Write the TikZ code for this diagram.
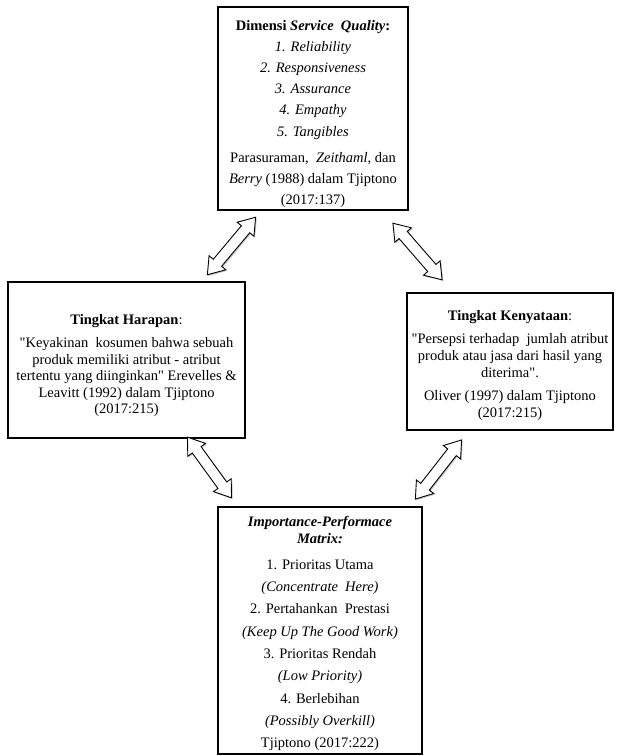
\documentclass[tikz,border=0pt]{standalone}
\usepackage{fontspec}
\setmainfont{Liberation Serif}
\usetikzlibrary{calc}
\usetikzlibrary{shapes.arrows}
\usetikzlibrary{shadows}

\tikzset{
  box/.style={draw, line width=2.4pt, align=center, inner sep=0pt},
  bolak/.style={double arrow, draw, fill=white, line width=0.9pt,
    minimum height=75pt, inner xsep=0pt, inner ysep=5pt,
    double arrow head extend=5.5pt, double arrow tip angle=70,
    drop shadow={shadow xshift=1.2pt, shadow yshift=-1.2pt, opacity=0.45}}
}

\begin{document}
\begin{tikzpicture}[x=1pt,y=-1pt]

\useasboundingbox (0,0) rectangle (621,756);

\node[box, minimum width=190pt, minimum height=203pt, font=\fontsize{14.5}{21.2}\selectfont] (dimensi) at (313,108.5)
{\rule{0pt}{21pt}\textbf{Dimensi \textit{Service\ \ Quality}:}\\
\textit{1. Reliability}\\
\textit{2. Responsiveness}\\
\textit{3. Assurance}\\
\textit{4. Empathy}\\
\textit{5. Tangibles}\\[5pt]
Parasuraman, \ \textit{Zeithaml}, dan\\
\textit{Berry} (1988) dalam Tjiptono\\
(2017:137)};

\node[box, minimum width=237pt, minimum height=156pt, font=\fontsize{14.5}{16.5}\selectfont] (harapan) at (126.5,360)
{\rule{0pt}{21pt}\textbf{Tingkat Harapan}:\\[7pt]
\textquotedbl Keyakinan \ kosumen bahwa sebuah\\
produk memiliki atribut - atribut\\
tertentu yang diinginkan\textquotedbl\ Erevelles \&\\
Leavitt (1992) dalam Tjiptono\\
(2017:215)};

\node[box, minimum width=206pt, minimum height=137pt, font=\fontsize{14.5}{17}\selectfont] (kenyataan) at (510,361.5)
{\rule{0pt}{19pt}\textbf{Tingkat Kenyataan}:\\[6pt]
\textquotedbl Persepsi terhadap \ jumlah atribut\\
produk atau jasa dari hasil yang\\
diterima\textquotedbl.\\[6pt]
Oliver (1997) dalam Tjiptono\\
(2017:215)};

\node[box, minimum width=204pt, minimum height=247pt, font=\fontsize{14.5}{17}\selectfont] (matriks) at (320,630.5)
{\rule{0pt}{16pt}\textbf{\textit{Importance-Performace}}\\
\textbf{\textit{Matrix:}}\\[9pt]
1. Prioritas Utama\\[5.3pt]
\textit{(Concentrate \ Here)}\\[5.3pt]
2. Pertahankan \ Prestasi\\[5.3pt]
\textit{(Keep Up The Good Work)}\\[5.3pt]
3. Prioritas Rendah\\[5.3pt]
\textit{(Low Priority)}\\[5.3pt]
4. Berlebihan\\[5.3pt]
\textit{(Possibly Overkill)}\\[5.3pt]
Tjiptono (2017:222)};

\node[bolak, rotate=50] (a1) at ($(harapan.north east)!0.5!(dimensi.south west)$) {};
\node[bolak, rotate=-49] (a2) at ($(dimensi.south east)!0.5!(kenyataan.north west)+(10,0)$) {};
\node[bolak, rotate=-54] (a3) at ($(harapan.south east)!0.5!(matriks.north west)+(-22,-5)$) {};
\node[bolak, rotate=52] (a4) at ($(kenyataan.south west)!0.5!(matriks.north east)+(24,1)$) {};

\end{tikzpicture}
\end{document}
